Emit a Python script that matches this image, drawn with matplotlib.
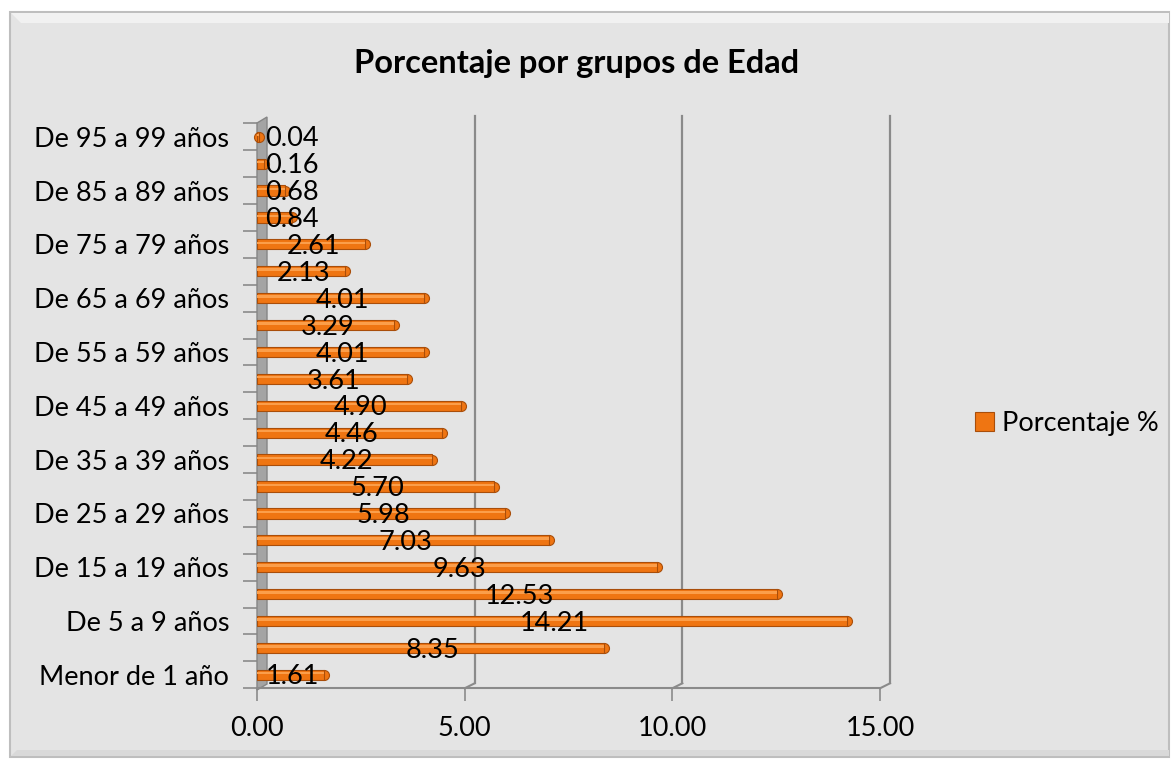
import numpy as np
import matplotlib
matplotlib.use('Agg')
import matplotlib.pyplot as plt
import matplotlib.transforms as mtransforms
from matplotlib.patches import Rectangle, Polygon
from matplotlib.lines import Line2D

plt.rcParams['font.family'] = ['Lato', 'DejaVu Sans']

# datos (de abajo hacia arriba)
grupos = ['Menor de 1 año', 'De 1 a 4 años', 'De 5 a 9 años', 'De 10 a 14 años',
          'De 15 a 19 años', 'De 20 a 24 años', 'De 25 a 29 años', 'De 30 a 34 años',
          'De 35 a 39 años', 'De 40 a 44 años', 'De 45 a 49 años', 'De 50 a 54 años',
          'De 55 a 59 años', 'De 60 a 64 años', 'De 65 a 69 años', 'De 70 a 74 años',
          'De 75 a 79 años', 'De 80 a 84 años', 'De 85 a 89 años', 'De 90 a 94 años',
          'De 95 a 99 años']
porcentaje = [1.61, 8.35, 14.21, 12.53, 9.63, 7.03, 5.98, 5.70, 4.22, 4.46, 4.90,
              3.61, 4.01, 3.29, 4.01, 2.13, 2.61, 0.84, 0.68, 0.16, 0.04]
x_ticks = [0, 5, 10, 15]
titulo = 'Porcentaje por grupos de Edad'
serie = 'Porcentaje %'

W, H = 1171, 762
fig = plt.figure(figsize=(W / 100, H / 100), dpi=100)
fig.patch.set_facecolor('white')


def fx(px):
    return px / W


def fy(py):
    return 1 - py / H


# marco del grafico
fig.patches.append(Rectangle((fx(10), fy(757)), fx(1169) - fx(10), fy(12) - fy(757),
                             transform=fig.transFigure, fc='#E4E4E4', ec='#BEBEBE',
                             lw=1.5, zorder=-2))
fig.patches.append(Polygon([(fx(11), fy(13)), (fx(1169), fy(13)), (fx(1169), fy(23)),
                            (fx(21), fy(23))], closed=True, transform=fig.transFigure,
                           fc='#F1F1F1', ec='none', zorder=-1))
fig.patches.append(Polygon([(fx(11), fy(756)), (fx(1169), fy(756)), (fx(1169), fy(750)),
                            (fx(17), fy(750))], closed=True, transform=fig.transFigure,
                           fc='#D9D9D9', ec='none', zorder=-1))

# area de trazado
top_px, bot_px = 123.3, 688.3
ax = fig.add_axes([fx(257), fy(bot_px), fx(880) - fx(257), fy(top_px) - fy(bot_px)])
ax.patch.set_visible(False)

y = np.arange(len(grupos))
ax.set_xlim(0, 15)
ax.set_ylim(-0.5, len(grupos) - 0.5)

naranja, borde = '#EF7512', '#A94E0A'
bars = ax.barh(y, porcentaje, height=0.38, color=naranja, edgecolor=borde,
               linewidth=0.8, label=serie, zorder=3)
ax.barh(y + 0.06, porcentaje, height=0.09, color='#FB9E4A', linewidth=0, zorder=4)
# extremos redondeados
ax.plot(porcentaje, y, 'o', ms=7.2, color=naranja, mec=borde, mew=0.8,
        zorder=2.9, clip_on=False)

for yi, v in zip(y, porcentaje):
    ax.text(max(v / 2, 0.8) + 0.05, yi - 0.08, f'{v:.2f}', ha='center', va='center',
            fontsize=19.5, color='black', zorder=5)

# ejes
ax.set_yticks(y[::2])
ax.set_yticklabels(grupos[::2])
ax.set_yticks(np.arange(-0.5, len(grupos), 1), minor=True)
ax.tick_params(axis='y', which='major', length=0, pad=20, labelsize=19.5)
ax.tick_params(axis='y', which='minor', length=10, color='#8A8A8A', width=1.2)

ax.set_xticks(x_ticks)
ax.set_xticklabels([f'{t:.2f}' for t in x_ticks])
ax.tick_params(axis='x', length=9, color='#8A8A8A', width=1.2, pad=11, labelsize=19.5)

for s in ['top', 'right', 'left']:
    ax.spines[s].set_visible(False)
ax.spines['bottom'].set_color('#8A8A8A')
ax.spines['bottom'].set_linewidth(1.5)

# pared del fondo (efecto 3D)
dx, dy = 10, 5
back = ax.get_xaxis_transform() + mtransforms.ScaledTranslation(dx / 100, dy / 100,
                                                                  fig.dpi_scale_trans)
top_frac = (bot_px - 116 - dy) / (bot_px - top_px)
for t in x_ticks[1:]:
    ax.plot([t, t], [0, top_frac], transform=back, color='#8A8A8A', lw=1.6,
            clip_on=False, zorder=1)
    p0 = ax.get_xaxis_transform().transform((t, 0))
    fig.add_artist(Line2D([p0[0], p0[0] + dx], [p0[1], p0[1] + dy], transform=None,
                          color='#8A8A8A', lw=1.5, zorder=1))

wall = Polygon([(fx(257), fy(690)), (fx(267), fy(684)), (fx(267), fy(117)),
                (fx(257), fy(123))], closed=True, transform=fig.transFigure,
               fc='#A4A4A4', ec='#858585', lw=1, zorder=2, clip_on=False)
ax.add_patch(wall)

ax.legend(handles=[bars], loc='center left', bbox_to_anchor=(fx(975), fy(423)),
          bbox_transform=fig.transFigure, frameon=False, fontsize=19.5,
          handlelength=0.7, handleheight=0.7, handletextpad=0.3,
          borderpad=0, borderaxespad=0)

fig.text(fx(577), fy(63), titulo, ha='center', va='center', fontsize=23.5,
         fontweight='bold')

fig.savefig('out.png', dpi=100)
